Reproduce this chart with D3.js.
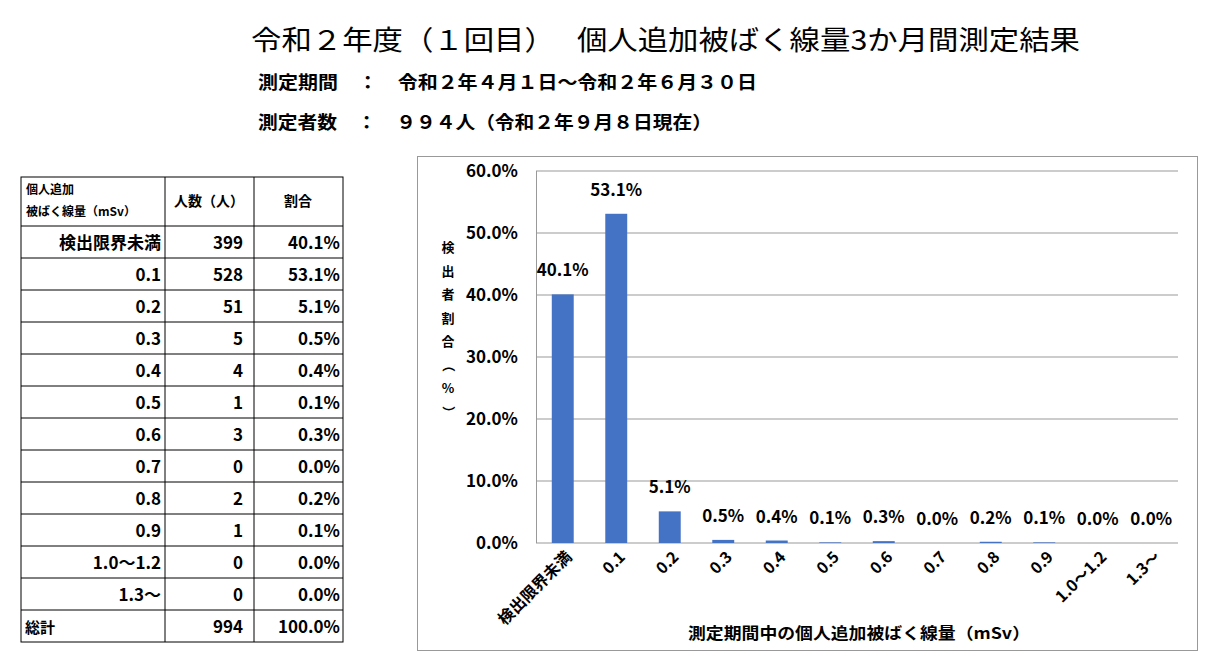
<!DOCTYPE html><html><head><meta charset="utf-8"><script src="https://cdn.jsdelivr.net/npm/d3@7"></script>
<style>body{margin:0;background:#fff}text{font-family:"Noto Sans CJK JP","Noto Sans",sans-serif}</style></head><body>
<svg id="c" width="1219" height="663"></svg>
<script>
const categories=["検出限界未満","0.1","0.2","0.3","0.4","0.5","0.6","0.7","0.8","0.9","1.0～1.2","1.3～"];
const counts=[399,528,51,5,4,1,3,0,2,1,0,0];
const percents=[40.1,53.1,5.1,0.5,0.4,0.1,0.3,0.0,0.2,0.1,0.0,0.0];
const yTicks=[0,10,20,30,40,50,60];
const total=994;
const svg=d3.select("#c");
svg.append("text").attr("x",251).attr("y",50).attr("font-size",27).attr("textLength",829).attr("lengthAdjust","spacingAndGlyphs").text("令和２年度（１回目）　 個人追加被ばく線量3か月間測定結果");
svg.append("text").attr("x",258).attr("y",89).attr("font-size",18).attr("font-weight","bold").attr("textLength",499).attr("lengthAdjust","spacingAndGlyphs").attr("xml:space","preserve").text("測定期間　：　令和２年４月１日～令和２年６月３０日");
svg.append("text").attr("x",258).attr("y",129).attr("font-size",18).attr("font-weight","bold").attr("textLength",454).attr("lengthAdjust","spacingAndGlyphs").attr("xml:space","preserve").text("測定者数　：　９９４人（令和２年９月８日現在）");
// table
const rows=categories.map((c,i)=>[c,counts[i],percents[i].toFixed(1)+"%"]);
rows.push(["総計",total,"100.0%"]);
const ty=d3.scaleLinear().domain([0,13]).range([226,642]);
const tg=svg.append("g");
tg.append("rect").attr("x",21).attr("y",177).attr("width",322).attr("height",465).attr("fill","none").attr("stroke","#000");
[165,254].forEach(x=>tg.append("line").attr("x1",x).attr("x2",x).attr("y1",177).attr("y2",642).attr("stroke","#000"));
d3.range(0,13).forEach(i=>tg.append("line").attr("x1",21).attr("x2",343).attr("y1",ty(i)).attr("y2",ty(i)).attr("stroke","#000"));
tg.append("text").attr("x",26).attr("y",194).attr("font-size",12).attr("font-weight","bold").text("個人追加");
tg.append("text").attr("x",26).attr("y",216).attr("font-size",12).attr("font-weight","bold").text("被ばく線量（mSv）");
tg.append("text").attr("x",209).attr("y",206).attr("text-anchor","middle").attr("font-size",14).attr("font-weight","bold").text("人数（人）");
tg.append("text").attr("x",298).attr("y",206).attr("text-anchor","middle").attr("font-size",14).attr("font-weight","bold").text("割合");
rows.forEach((r,i)=>{
 const y=ty(i)+23;
 const last=i===12;
 tg.append("text").attr("x",last?25:161).attr("y",y).attr("text-anchor",last?"start":"end").attr("font-size",last?15:17).attr("font-weight","bold").text(r[0]);
 tg.append("text").attr("x",243).attr("y",y).attr("text-anchor","end").attr("font-size",17).attr("font-weight","bold").text(r[1]);
 tg.append("text").attr("x",340).attr("y",y).attr("text-anchor","end").attr("font-size",17).attr("font-weight","bold").text(r[2]);
});
// chart
svg.append("rect").attr("x",417.5).attr("y",156.5).attr("width",780).attr("height",494).attr("fill","none").attr("stroke","#999");
const x=d3.scaleBand().domain(categories).range([536,1178]).paddingInner(0.59).paddingOuter(0.295);
const y=d3.scaleLinear().domain([0,60]).range([543,171]);
const g=svg.append("g");
yTicks.forEach(t=>{
 g.append("line").attr("x1",536).attr("x2",1178).attr("y1",y(t)).attr("y2",y(t)).attr("stroke","#999");
 g.append("text").attr("x",518).attr("y",y(t)+6).attr("text-anchor","end").attr("font-size",17).attr("font-weight","bold").text(t.toFixed(1)+"%");
});
g.append("line").attr("x1",536.5).attr("x2",536.5).attr("y1",171).attr("y2",543).attr("stroke","#999");
g.selectAll(".b").data(categories).enter().append("rect").attr("x",d=>x(d)).attr("width",x.bandwidth())
 .attr("y",(d,i)=>y(percents[i])).attr("height",(d,i)=>y(0)-y(percents[i])).attr("fill","#4472C4");
g.selectAll(".l").data(categories).enter().append("text").attr("x",d=>x(d)+x.bandwidth()/2).attr("y",(d,i)=>y(percents[i])-18)
 .attr("text-anchor","middle").attr("font-size",17).attr("font-weight","bold").text((d,i)=>percents[i].toFixed(1)+"%");
categories.forEach(c=>{
 const cx=x(c)+x.bandwidth()/2+10;
 g.append("text").attr("transform",`translate(${cx},558) rotate(-45)`).attr("text-anchor","end").attr("font-size",16).attr("font-weight","bold").text(c);
});
g.append("text").attr("x",688).attr("y",639).attr("font-size",16).attr("font-weight","bold").attr("textLength",342).attr("lengthAdjust","spacingAndGlyphs").text("測定期間中の個人追加被ばく線量（mSv）");
const yl="検出者割合（%）".split("");
yl.forEach((ch,i)=>g.append("text").attr("x",448).attr("y",252+i*23.5).attr("text-anchor","middle").attr("font-size",13).attr("font-weight","bold")
 .attr("transform",(ch==="（"||ch==="）")?`rotate(90,448,${248+i*23.5})`:null).text(ch));
</script></body></html>
